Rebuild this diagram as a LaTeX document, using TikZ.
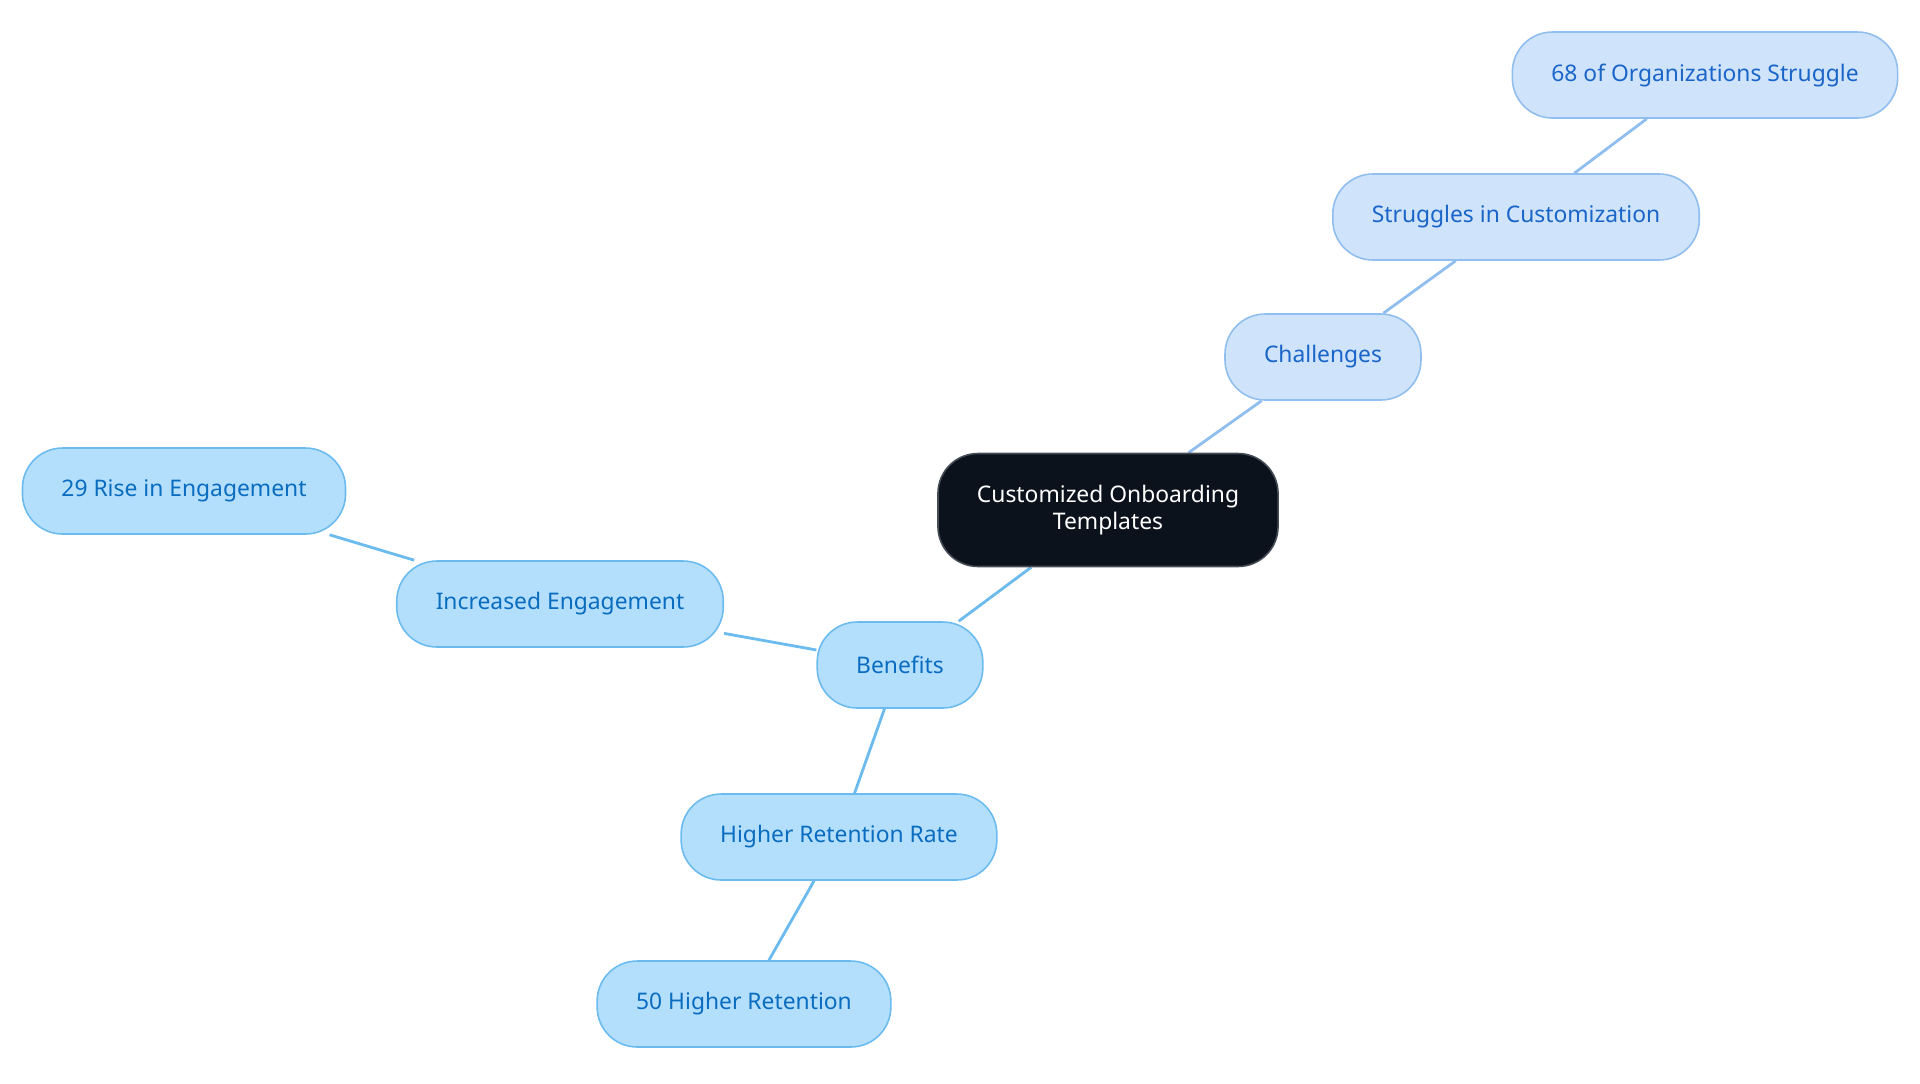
\documentclass[tikz,border=0pt]{standalone}
\usepackage{fontspec}
\setmainfont{Noto Sans}
\usetikzlibrary{backgrounds}

\definecolor{rootfill}{RGB}{12,18,28}
\definecolor{rootline}{RGB}{70,76,86}
\definecolor{chalfill}{RGB}{207,227,250}
\definecolor{challine}{RGB}{144,190,238}
\definecolor{chaltext}{RGB}{26,101,200}
\definecolor{benefill}{RGB}{179,223,253}
\definecolor{beneline}{RGB}{108,187,239}
\definecolor{benetext}{RGB}{10,108,191}

\begin{document}
\begin{tikzpicture}[x=0.02cm,y=-0.02cm,
    every node/.style={font=\fontsize{13}{15.4}\selectfont},
    pill/.style={rounded corners=0.8cm, line width=0.9pt, minimum height=1.72cm, inner xsep=0.78cm},
    root/.style={pill, draw=rootline, fill=rootfill, text=white, align=center, minimum height=2.26cm, minimum width=6.76cm},
    chal/.style={pill, draw=challine, fill=chalfill, text=chaltext},
    bene/.style={pill, draw=beneline, fill=benefill, text=benetext}]
\useasboundingbox (0,0) rectangle (1920,1083);

\node[root] (root) at (1108,510) {Customized Onboarding\\Templates};

% challenges branch
\node[chal] (challenges) at (1323,357) {Challenges};
\node[chal] (struggles) at (1516,217) {Struggles in Customization};
\node[chal] (orgs) at (1705,75) {68 of Organizations Struggle};

% benefits branch
\node[bene] (benefits) at (900,665) {Benefits};
\node[bene] (engage) at (560,604) {Increased Engagement};
\node[bene] (rise) at (184,491) {29 Rise in Engagement};
\node[bene] (retain) at (839,837) {Higher Retention Rate};
\node[bene] (fifty) at (744,1004) {50 Higher Retention};

\begin{scope}[on background layer]
\foreach \a/\b in {root/challenges, challenges/struggles, struggles/orgs}
    \draw[challine, line width=1.6pt] (\a) -- (\b);
\foreach \a/\b in {root/benefits, benefits/engage, engage/rise, benefits/retain, retain/fifty}
    \draw[beneline, line width=1.6pt] (\a) -- (\b);
\end{scope}
\end{tikzpicture}
\end{document}
